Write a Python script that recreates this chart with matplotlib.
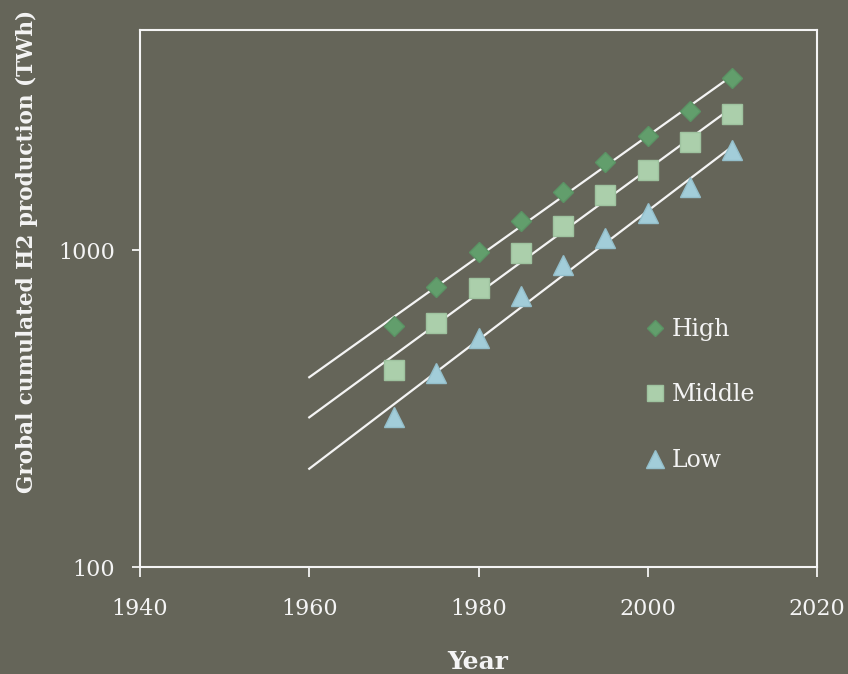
import numpy as np
import matplotlib
matplotlib.use("Agg")
import matplotlib.pyplot as plt
from matplotlib.ticker import FixedLocator, FixedFormatter, NullLocator

# Cumulated global H2 production scenarios (TWh)
years = [1970, 1975, 1980, 1985, 1990, 1995, 2000, 2005, 2010]
high = [576, 764, 986, 1235, 1524, 1895, 2289, 2745, 3487]
middle = [418, 589, 759, 978, 1191, 1491, 1788, 2191, 2685]
low = [297, 409, 528, 716, 897, 1091, 1308, 1580, 2068]

x_ticks = [1940, 1960, 1980, 2000, 2020]
y_ticks = [100, 1000]
y_tick_labels = ["100", "1000"]

BG = "#656559"
FG = "#f4f4f4"
FONT = "DejaVu Serif"

plt.rcParams["font.family"] = FONT

fig = plt.figure(figsize=(8.48, 6.74), dpi=100, facecolor=BG)
ax = fig.add_axes([140 / 848, 1 - 567 / 674, 677 / 848, 537 / 674])
ax.set_facecolor(BG)

series = [
    ("High", high, "D", 10.0, "#629e6c", "#5a9364"),
    ("Middle", middle, "s", 14.0, "#abcfab", "#9ec29f"),
    ("Low", low, "^", 14.5, "#a2cdd9", "#94bfcb"),
]

# exponential trend lines, extended back to 1960
fit_x = np.array([1960, 2010])
yrs = np.array(years, dtype=float)
for name, vals, mk, ms, fc, ec in series:
    b, a = np.polyfit(yrs, np.log10(vals), 1)
    ax.plot(fit_x, 10 ** (a + b * fit_x), color=FG, lw=1.6, zorder=2)

for name, vals, mk, ms, fc, ec in series:
    ax.plot(years, vals, linestyle="none", marker=mk, markersize=ms,
            markerfacecolor=fc, markeredgecolor=ec, markeredgewidth=1.0,
            label=name, zorder=3)

ax.set_yscale("log")
ax.set_xlim(1940, 2020)
ax.set_ylim(100, 4950)

ax.xaxis.set_major_locator(FixedLocator(x_ticks))
ax.yaxis.set_major_locator(FixedLocator(y_ticks))
ax.yaxis.set_major_formatter(FixedFormatter(y_tick_labels))
ax.yaxis.set_minor_locator(NullLocator())

for sp in ax.spines.values():
    sp.set_color(FG)
    sp.set_linewidth(1.5)

ax.tick_params(axis="x", direction="out", length=7, width=1.3, colors=FG,
               labelsize=16, pad=15)
ax.tick_params(axis="y", direction="out", length=6, width=1.3, colors=FG,
               labelsize=16, pad=12)

leg = ax.legend(loc="upper left", bbox_to_anchor=(0.745, 0.464), frameon=False,
                fontsize=17, labelcolor=FG, markerscale=0.85,
                handlelength=0.9, handletextpad=0.25, labelspacing=1.8,
                borderpad=0, borderaxespad=0)

fig.text(27 / 848, 1 - 251 / 674, "Grobal cumulated H2 production (TWh)",
         rotation=90, ha="center", va="center", color=FG, fontsize=15.5,
         fontweight="bold")
fig.text(478 / 848, 1 - 662 / 674, "Year", ha="center", va="center",
         color=FG, fontsize=18, fontweight="bold")

fig.savefig("out.png", dpi=100, facecolor=BG)
